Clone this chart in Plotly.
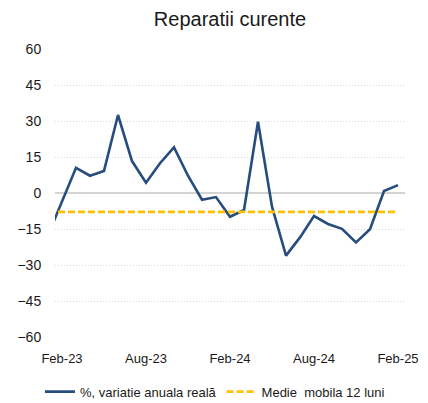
import plotly.graph_objects as go

# ---- data ----
months = ["Jan-23", "Feb-23", "Mar-23", "Apr-23", "May-23", "Jun-23", "Jul-23", "Aug-23",
          "Sep-23", "Oct-23", "Nov-23", "Dec-23", "Jan-24", "Feb-24", "Mar-24", "Apr-24",
          "May-24", "Jun-24", "Jul-24", "Aug-24", "Sep-24", "Oct-24", "Nov-24", "Dec-24",
          "Jan-25", "Feb-25"]
variatie = [-17.6, -3.6, 10.5, 7.2, 9.2, 32.5, 13.3, 4.3, 12.4, 19.0, 7.2, -2.8, -1.7,
            -9.9, -7.1, 29.7, -5.7, -26.1, -18.5, -9.6, -12.9, -14.9, -20.6, -15.1, 0.8, 3.3]
medie_mobila = [-7.9] * len(months)
tick_labels = ["Feb-23", "Aug-23", "Feb-24", "Aug-24", "Feb-25"]
y_ticks = [-60, -45, -30, -15, 0, 15, 30, 45, 60]

xs = [i - 1 for i in range(len(months))]  # Feb-23 -> 0
tick_pos = [months.index(m) - 1 for m in tick_labels]
sep_ticks = [p - 0.5 for p in tick_pos]

FONT = "Liberation Sans, Arial, sans-serif"
TXT = "#1a1a1a"
XR = [-0.5, 24.5]
AXC = "#d4d4d4"

fig = go.Figure()
fig.add_trace(go.Scatter(
    x=xs, y=variatie, mode="lines", name="%, variatie anuala reală",
    line=dict(color="#264D7E", width=2.6)))
fig.add_trace(go.Scatter(
    x=xs, y=medie_mobila, mode="lines", name="Medie  mobila 12 luni",
    line=dict(color="#FFC000", width=2.8, dash="7px,3px")))

fig.update_layout(
    width=428, height=403,
    margin=dict(l=55, r=23, t=49, b=66, autoexpand=False),
    paper_bgcolor="white", plot_bgcolor="white",
    font=dict(family=FONT, size=13, color=TXT),
    title=dict(text="Reparatii curente", x=0.5, xref="paper", xanchor="center",
               y=1 - 19 / 403, yref="container", yanchor="middle",
               font=dict(family=FONT, size=20, color=TXT)),
    showlegend=True,
    legend=dict(orientation="h", x=0.457, xanchor="center", y=-0.19, yanchor="middle",
                font=dict(family=FONT, size=13, color=TXT), itemwidth=30,
                bgcolor="rgba(0,0,0,0)"),
    xaxis=dict(range=XR, tickvals=tick_pos, ticktext=tick_labels,
               showgrid=False, zeroline=False, showline=False, automargin=False,
               ticks="outside", ticklen=9, tickcolor="rgba(0,0,0,0)",
               tickfont=dict(family=FONT, size=13, color=TXT)),
    xaxis2=dict(range=XR, anchor="y2", overlaying="x", side="bottom",
                showline=True, linecolor=AXC, linewidth=1.5, automargin=False,
                ticks="outside", ticklen=4, tickcolor=AXC, tickwidth=1,
                tickvals=sep_ticks, showticklabels=False, showgrid=False, zeroline=False,
                fixedrange=True),
    yaxis2=dict(domain=[0.5, 1], anchor="x2", range=[0, 1], visible=False,
                showgrid=False, zeroline=False, automargin=False, fixedrange=True),
    yaxis=dict(range=[-60, 60], tickvals=y_ticks, showgrid=True, gridcolor="#d9d9d9",
               griddash="1px,2px", gridwidth=1,
               zeroline=True, zerolinecolor=AXC, zerolinewidth=1.5,
               showline=False, automargin=False,
               ticks="outside", ticklen=10, tickcolor="rgba(0,0,0,0)",
               tickfont=dict(family=FONT, size=14, color=TXT)),
)

fig.write_html("out.html", config={"displayModeBar": False},
               post_script="document.body.style.margin='0';"
                           "document.body.style.overflow='hidden';")
